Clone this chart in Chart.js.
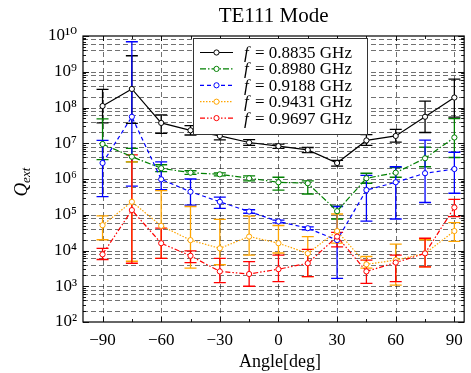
<!DOCTYPE html>
<html><head><meta charset="utf-8">
<script src="https://cdn.jsdelivr.net/npm/chart.js@4/dist/chart.umd.min.js"></script>
<style>html,body{margin:0;padding:0;background:#fff;}</style>
</head><body>
<canvas id="c" width="471" height="373"></canvas>
<script>
// ---- data ----
const angles = [-90,-75,-60,-45,-30,-15,0,15,30,45,60,75,90];
const xTicks = [-90,-60,-30,0,30,60,90];
const xMinorTicks = [-75,-45,-15,15,45,75];
const yTickExps = [2,3,4,5,6,7,8,9,10];
const yGridMantissas = [1,2,4,6,8];
const freqLabels = ['0.8835','0.8980','0.9188','0.9431','0.9697'];

const q8835   = [1.1e8,3.3e8,3.7e7,2.3e7,1.6e7,1.05e7,8.3e6,6.5e6,2.8e6,1.2e7,1.6e7,5.5e7,1.9e8];
const q8835Lo = [3.7e7,3.6e7,1.9e7,1.7e7,1.25e7,8.7e6,7.2e6,5.5e6,2.3e6,8.7e6,1.07e7,2.0e7,5.4e7];
const q8835Hi = [3.2e8,2.8e9,6.2e7,3.1e7,2.1e7,1.26e7,9.5e6,7.6e6,3.3e6,1.75e7,2.45e7,1.5e8,6.2e8];

const q8980   = [9.5e6,4.2e6,2.0e6,1.5e6,1.35e6,1.05e6,8.1e5,7.6e5,1.26e5,1.05e6,1.5e6,3.8e6,1.45e7];
const q8980Lo = [3.5e6,3.0e6,1.6e6,1.35e6,1.23e6,8.9e5,4.9e5,3.8e5,7.6e4,7.6e5,1.12e6,2.2e6,4.0e6];
const q8980Hi = [4.8e7,7.2e6,2.5e6,1.7e6,1.48e6,1.23e6,1.12e6,8.9e5,1.74e5,1.45e6,2.1e6,7.8e6,4.9e7];

const q9188   = [2.8e6,5.5e7,9.8e5,4.4e5,2.3e5,1.23e5,6.5e4,4.2e4,1.95e4,4.9e5,8.1e5,1.45e6,1.9e6];
const q9188Lo = [3.2e5,6.3e5,5.0e5,1.86e5,1.5e5,1.1e5,5.9e4,3.8e4,1.66e3,6.6e4,7.6e4,2.2e5,4.0e5];
const q9188Hi = [1.2e7,6.9e9,3.0e6,1.0e6,3.1e5,1.38e5,7.1e4,4.6e4,1.7e5,1.26e6,2.2e6,1.23e7,5.6e6];

const q9431   = [5.1e4,2.3e5,4.9e4,1.95e4,1.15e4,2.45e4,1.6e4,8.3e3,3.5e4,4.1e3,5.4e3,8.3e3,3.5e4];
const q9431Lo = [2.0e4,5.0e3,6.0e3,3.2e3,4.0e3,7.4e3,8.5e3,1.86e3,1.6e4,3.2e3,1.07e3,3.5e3,1.8e4];
const q9431Hi = [9.3e4,3.0e6,4.7e5,1.7e5,7.4e4,9.1e4,5.0e4,2.45e4,1.05e5,6.8e3,1.5e4,2.0e4,6.0e4];

const q9697   = [7.8e3,1.35e5,1.6e4,7.1e3,2.6e3,2.2e3,3.0e3,4.4e3,2.45e4,2.6e3,4.6e3,8.3e3,1.6e5];
const q9697Lo = [5.6e3,4.4e3,6.0e3,4.6e3,1.26e3,1.0e3,1.35e3,1.86e3,1.26e4,1.2e3,1.35e3,3.5e3,8.9e4];
const q9697Hi = [1.15e4,4.7e6,4.2e4,9.8e3,6.0e3,4.9e3,7.4e3,1.07e4,3.2e4,5.4e3,7.4e3,2.2e4,2.7e5];

// ---- styles ----
const SERIF = '"Liberation Serif","DejaVu Serif",serif';
const colors = ['#000000','#008000','#0000ff','#ffa500','#ff0000'];
const dashes = [[], [6,2,1.5,2], [4,3], [1.5,1.5], [5,2,1.5,2,1.5,2]];
const series = [q8835,q8980,q9188,q9431,q9697];
const lows = [q8835Lo,q8980Lo,q9188Lo,q9431Lo,q9697Lo];
const highs = [q8835Hi,q8980Hi,q9188Hi,q9431Hi,q9697Hi];
const sup = {'0':'⁰','1':'¹','2':'²','3':'³','4':'⁴','5':'⁵','6':'⁶','7':'⁷','8':'⁸','9':'⁹'};

const datasets = series.map((s,i)=>({
  label: 'f = ' + freqLabels[i] + ' GHz',
  data: angles.map((a,j)=>({x:a,y:s[j]})),
  borderColor: colors[i],
  borderWidth: 1.2,
  borderDash: dashes[i],
  pointRadius: 2.6,
  pointBackgroundColor: '#fff',
  pointBorderColor: colors[i],
  pointBorderWidth: 1,
  fill: false,
  tension: 0,
  order: 4 - i
}));

const decor = {
  id: 'decor',
  beforeDatasetsDraw(chart) {
    const {ctx, chartArea: a, scales: {x, y}} = chart;
    ctx.save();
    ctx.beginPath(); ctx.rect(a.left, a.top, a.right - a.left, a.bottom - a.top); ctx.clip();
    // grid
    ctx.strokeStyle = 'rgba(0,0,0,0.7)';
    ctx.lineWidth = 0.8;
    ctx.setLineDash([5,3]);
    for (let e = 2; e < 10; e++) {
      yGridMantissas.forEach(m => {
        const v = m * Math.pow(10, e);
        if (v <= 100) return;
        const py = Math.round(y.getPixelForValue(v)) + 0.5;
        ctx.beginPath(); ctx.moveTo(a.left, py); ctx.lineTo(a.right, py); ctx.stroke();
      });
    }
    xTicks.forEach(v => {
      const px = Math.round(x.getPixelForValue(v)) + 0.5;
      ctx.beginPath(); ctx.moveTo(px, a.top); ctx.lineTo(px, a.bottom); ctx.stroke();
    });
    ctx.setLineDash([]);
    // error bars
    for (let i = 0; i < series.length; i++) {
      ctx.strokeStyle = colors[i];
      ctx.lineWidth = 1.3;
      angles.forEach((ang, j) => {
        const px = x.getPixelForValue(ang);
        const pt = y.getPixelForValue(highs[i][j]);
        const pb = y.getPixelForValue(lows[i][j]);
        ctx.beginPath();
        ctx.moveTo(px, pt); ctx.lineTo(px, pb);
        ctx.moveTo(px - 6, pt); ctx.lineTo(px + 6, pt);
        ctx.moveTo(px - 6, pb); ctx.lineTo(px + 6, pb);
        ctx.stroke();
      });
    }
    ctx.restore();
  },
  afterDatasetsDraw(chart) {
    const {ctx, chartArea: a, scales: {x, y}} = chart;
    ctx.save();
    // frame
    ctx.strokeStyle = '#000'; ctx.lineWidth = 1.2;
    ctx.strokeRect(a.left, a.top, a.right - a.left, a.bottom - a.top);
    // ticks (inward)
    ctx.lineWidth = 0.9;
    ctx.beginPath();
    for (let e = 2; e <= 10; e++) {
      for (let m = 1; m < 10; m++) {
        const v = m * Math.pow(10, e);
        if (v > 1e10) continue;
        const py = Math.round(y.getPixelForValue(v)) + 0.5;
        const L = m === 1 ? 6 : 3;
        ctx.moveTo(a.left, py); ctx.lineTo(a.left + L, py);
        ctx.moveTo(a.right, py); ctx.lineTo(a.right - L, py);
      }
    }
    xTicks.concat(xMinorTicks).forEach(v => {
      const px = Math.round(x.getPixelForValue(v)) + 0.5;
      const L = xTicks.includes(v) ? 5 : 3;
      ctx.moveTo(px, a.bottom); ctx.lineTo(px, a.bottom - L);
      ctx.moveTo(px, a.top); ctx.lineTo(px, a.top + L);
    });
    ctx.stroke();

    // legend
    const lx = 193, ly = 38, lw = 174, lh = 96;
    ctx.fillStyle = '#fff';
    ctx.fillRect(lx, ly, lw, lh);
    ctx.strokeStyle = '#333'; ctx.lineWidth = 1;
    ctx.strokeRect(lx + 0.5, ly + 0.5, lw, lh);
    datasets.forEach((d, i) => {
      const ry = ly + 14.5 + i * 16.4;
      ctx.strokeStyle = colors[i];
      ctx.lineWidth = 1.2;
      ctx.setLineDash(dashes[i]);
      ctx.beginPath(); ctx.moveTo(lx + 7, ry); ctx.lineTo(lx + 40, ry); ctx.stroke();
      ctx.setLineDash([]);
      ctx.beginPath(); ctx.arc(lx + 23.5, ry, 2.6, 0, Math.PI * 2);
      ctx.fillStyle = '#fff'; ctx.fill(); ctx.lineWidth = 1; ctx.stroke();
      ctx.fillStyle = '#000';
      ctx.textBaseline = 'middle'; ctx.textAlign = 'left';
      ctx.font = 'italic 17px ' + SERIF;
      ctx.fillText('f', lx + 51, ry + 1);
      ctx.font = '17px ' + SERIF;
      ctx.fillText('= ' + freqLabels[i] + ' GHz', lx + 62, ry + 1);
    });

    // title
    ctx.fillStyle = '#000';
    ctx.textAlign = 'center'; ctx.textBaseline = 'middle';
    ctx.font = '21px ' + SERIF;
    ctx.fillText('TE111 Mode', (a.left + a.right) / 2, 16);
    // x title
    ctx.font = '18px ' + SERIF;
    ctx.fillText('Angle[deg]', 280, 362);
    // y title
    ctx.translate(22, 182);
    ctx.rotate(-Math.PI / 2);
    ctx.textAlign = 'left';
    ctx.font = 'italic 19px ' + SERIF;
    const qw = ctx.measureText('Q').width;
    const tot = qw + ctx.measureText('ext').width * 0.7;
    ctx.fillText('Q', -tot / 2, 0);
    ctx.font = 'italic 13px ' + SERIF;
    ctx.fillText('ext', -tot / 2 + qw, 5);
    ctx.restore();
  }
};

new Chart(document.getElementById('c'), {
  type: 'line',
  data: { datasets },
  plugins: [decor],
  options: {
    responsive: false,
    devicePixelRatio: 1,
    animation: false,
    layout: { padding: { left: 0, right: 2, top: 36, bottom: 0 } },
    plugins: { legend: { display: false }, title: { display: false }, tooltip: { enabled: false } },
    scales: {
      x: {
        type: 'linear', min: -100, max: 95,
        afterBuildTicks: s => { s.ticks = xTicks.map(v => ({ value: v })); },
        afterFit: s => { s.height = 51; },
        grid: { display: false, drawTicks: false },
        border: { display: false },
        ticks: {
          padding: 8, color: '#000', maxRotation: 0,
          font: { family: SERIF, size: 17 },
          callback: v => String(v).replace('-', '−')
        }
      },
      y: {
        type: 'logarithmic', min: 100, max: 1e10,
        afterBuildTicks: s => { s.ticks = yTickExps.map(e => ({ value: Math.pow(10, e) })); },
        afterFit: s => { s.width = 83; },
        grid: { display: false, drawTicks: false },
        border: { display: false },
        ticks: {
          padding: 6, color: '#000',
          font: { family: SERIF, size: 17 },
          callback: v => '10' + String(Math.round(Math.log10(v))).split('').map(c => sup[c]).join('')
        }
      }
    }
  }
});
</script>
</body></html>
